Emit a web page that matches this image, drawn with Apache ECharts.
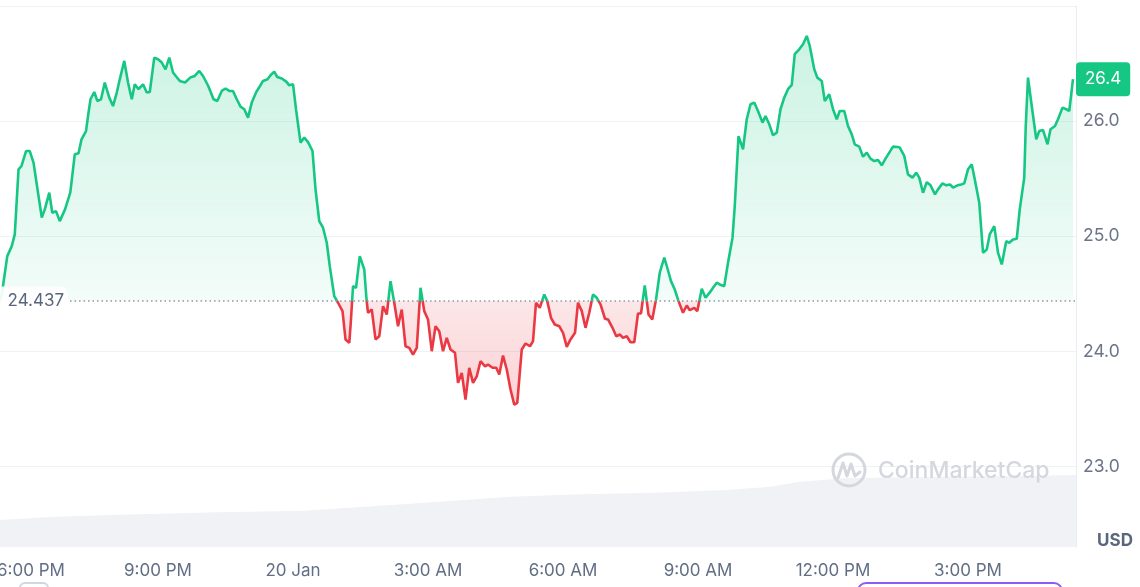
<!DOCTYPE html>
<html>
<head>
<meta charset="utf-8">
<script src="https://cdn.jsdelivr.net/npm/echarts@6/dist/echarts.min.js"></script>
<style>
html,body{margin:0;padding:0;background:#ffffff;}
#c{width:1140px;height:587px;}
</style>
</head>
<body>
<div id="c"></div>
<script>
// ---- data (time in minutes after 6:00 PM, 19 Jan) ----
const baseline = 24.437;
const priceMinutes = [-32,-28,-21,-15,-11,-6,-2,4,9,14,18,25,29,35,39,44,49,56,63,69,74,78,84,87,90,95,99,104,109,115,120,125,129,135,140,145,149,154,160,165,169,175,180,185,190,195,200,205,209,216,223,229,235,240,247,254,259,265,270,275,280,285,290,295,300,305,311,316,320,326,330,335,339,345,351,355,360,364,370,375,380,386,390,395,400,405,409,415,420,426,430,435,437,440,444,449,455,458,460,465,470,475,480,485,490,495,500,505,510,515,520,525,530,535,540,545,550,555,560,565,570,576,580,585,590,595,600,605,610,616,620,626,631,635,640,645,650,655,659,665,670,676,680,684,689,695,699,704,709,715,720,725,730,736,740,745,750,755,760,765,770,776,780,786,791,796,800,805,810,815,820,824,829,834,839,844,849,855,859,864,869,874,880,885,889,895,899,905,910,916,920,925,929,935,940,946,949,954,957,960,965,970,975,980,986,990,995,1000,1005,1010,1015,1020,1025,1029,1035,1040,1045,1049,1055,1059,1065,1069,1075,1080,1085,1089,1095,1100,1105,1109,1115,1120,1125,1130,1135,1140,1145,1150,1155,1160,1166,1169,1175,1180,1186,1191,1195,1200,1205,1210,1216,1220,1226,1231,1236,1240,1246,1251,1255,1260,1265,1269,1275,1280,1285,1289,1295,1300,1305,1311,1315,1320,1325,1329,1335,1337,1340,1345,1351,1355,1360,1366,1370,1376,1380,1386,1391,1395,1400];
const prices = [24.424,24.509,24.827,24.914,25.016,25.581,25.610,25.740,25.740,25.639,25.465,25.161,25.233,25.378,25.204,25.218,25.131,25.233,25.378,25.711,25.720,25.842,25.914,26.059,26.190,26.253,26.175,26.190,26.335,26.204,26.131,26.248,26.363,26.523,26.335,26.190,26.320,26.277,26.320,26.248,26.253,26.552,26.537,26.509,26.450,26.552,26.422,26.381,26.349,26.335,26.378,26.392,26.436,26.392,26.305,26.190,26.175,26.262,26.283,26.262,26.262,26.190,26.126,26.103,26.030,26.161,26.253,26.305,26.349,26.363,26.398,26.430,26.383,26.370,26.343,26.311,26.320,26.103,25.813,25.857,25.818,25.740,25.407,25.131,25.074,24.943,24.740,24.479,24.422,24.349,24.103,24.074,24.248,24.566,24.552,24.827,24.711,24.450,24.335,24.363,24.103,24.131,24.392,24.320,24.610,24.422,24.218,24.363,24.044,24.030,23.972,24.030,24.552,24.349,24.277,24.001,24.218,24.175,24.001,24.117,24.016,23.987,23.726,23.813,23.581,23.857,23.726,23.783,23.914,23.870,23.885,23.857,23.857,23.798,23.963,23.842,23.668,23.537,23.552,24.016,24.068,24.044,24.088,24.422,24.378,24.494,24.436,24.291,24.233,24.218,24.161,24.039,24.103,24.161,24.422,24.349,24.204,24.335,24.494,24.465,24.407,24.283,24.277,24.204,24.131,24.146,24.117,24.131,24.079,24.079,24.329,24.329,24.572,24.320,24.277,24.450,24.683,24.813,24.726,24.610,24.537,24.436,24.335,24.398,24.357,24.378,24.349,24.543,24.465,24.514,24.552,24.596,24.581,24.566,24.770,24.987,25.262,25.870,25.813,25.755,26.016,26.146,26.161,26.088,25.987,26.044,25.972,25.877,25.900,26.103,26.204,26.277,26.314,26.581,26.624,26.668,26.740,26.653,26.450,26.378,26.349,26.175,26.233,26.103,26.016,26.088,26.088,25.957,25.885,25.798,25.778,25.691,25.726,25.674,25.653,25.662,25.616,25.674,25.726,25.778,25.775,25.770,25.697,25.537,25.509,25.552,25.509,25.378,25.470,25.442,25.363,25.407,25.459,25.442,25.450,25.422,25.442,25.450,25.459,25.581,25.624,25.494,25.291,24.857,24.885,25.016,25.088,24.857,24.755,24.957,24.943,24.972,24.978,25.233,25.509,25.957,26.378,26.131,25.842,25.914,25.923,25.798,25.929,25.957,26.016,26.117,26.103,26.088,26.364];
const volumeMinutes = [-31,28,115,260,376,435,512,589,648,745,843,939,997,1036,1095,1181,1327,1404];
const volumeValues = [4.99,5.49,5.91,6.41,6.71,7.26,7.95,8.69,9.30,9.74,10.04,10.54,11.15,12.08,12.70,12.89,13.13,13.31];
const xTickMinutes = [0,180,360,540,720,900,1080,1260];
const xTickLabels = ['6:00 PM','9:00 PM','20 Jan','3:00 AM','6:00 AM','9:00 AM','12:00 PM','3:00 PM'];
const yLabelValues = [23,24,25,26];
const yGridValues = [23,24,25,26,27];
const xMin = -30.7, xMax = 1404;
const yMin = 22.3, yMax = 27;
const baselineLabelStart = 62.7;

const GREEN = '#16c784', RED = '#ea3943';
const priceData = priceMinutes.map((m, i) => [m, prices[i]]);
const volumeData = volumeMinutes.map((m, i) => [m, volumeValues[i]]);
const FONT = 'Inter, "Noto Sans", sans-serif';

const chart = echarts.init(document.getElementById('c'), null, {renderer: 'canvas'});
const option = {
  animation: false,
  grid: {left: 0, right: 64, top: 6, bottom: 40, containLabel: false, outerBoundsMode: 'none'},
  xAxis: {
    type: 'value', min: xMin, max: xMax,
    axisLine: {show: false}, axisTick: {show: false}, splitLine: {show: false},
    axisLabel: {
      customValues: xTickMinutes,
      formatter: v => {
        const i = xTickMinutes.indexOf(v);
        if (i < 0) return '';
        return i === 0 ? '{first|' + xTickLabels[i] + '}' : xTickLabels[i];
      },
      rich: {first: {padding: [0, 0, 0, 16], fontSize: 17, color: '#616e85', fontFamily: FONT}},
      color: '#616e85', fontSize: 17, fontFamily: FONT, margin: 15
    }
  },
  yAxis: [{
    type: 'value', position: 'right', min: yMin, max: yMax,
    axisLine: {show: true, onZero: false, lineStyle: {color: '#eaedf1', width: 1}},
    axisTick: {show: false, customValues: yGridValues},
    splitLine: {show: true, lineStyle: {color: '#eff2f5', width: 1}},
    axisLabel: {
      customValues: yLabelValues,
      formatter: v => v.toFixed(1),
      color: '#6b7488', fontSize: 17.5, fontFamily: FONT, margin: 7
    }
  }, {
    type: 'value', min: 0, max: 100, show: false
  }],
  series: [{
    id: 'volume', type: 'line', yAxisIndex: 1, data: volumeData,
    symbol: 'none', silent: true,
    lineStyle: {width: 0},
    areaStyle: {color: '#f0f2f5', opacity: 1}
  }, {
    id: 'price', type: 'line', data: priceData, symbol: 'none',
    lineStyle: {width: 2.6, color: GREEN},
    areaStyle: {origin: baseline, color: 'rgba(22,199,132,0.15)', opacity: 1},
    endLabel: {
      show: true, formatter: p => p.value[1].toFixed(1),
      backgroundColor: GREEN, color: '#ffffff', fontSize: 17, fontFamily: FONT,
      padding: [9, 9, 8, 9], borderRadius: 4, distance: 3
    },
    markLine: {
      silent: true, symbol: ['none', 'none'], animation: false,
      lineStyle: {type: [1.5, 3], color: '#8f96a5', width: 1.5},
      label: {
        show: true, position: 'start', formatter: baseline.toFixed(3),
        color: '#58667e', fontSize: 17, fontFamily: FONT,
        backgroundColor: 'rgba(255,255,255,0.92)', padding: [6, 4, 6, 8],
        borderRadius: [0, 8, 8, 0], distance: 2
      },
      emphasis: {disabled: true},
      data: [[{coord: [baselineLabelStart, baseline]}, {coord: [xMax, baseline]}]]
    }
  }],
  graphic: [
    {type: 'text', z: 10, style: {text: 'USD', x: 1115, y: 541, align: 'center', verticalAlign: 'middle', font: 'bold 17px ' + FONT, fill: '#58667e'}},
    {type: 'circle', z: 10, shape: {cx: 849, cy: 470, r: 16}, style: {fill: 'none', stroke: '#d3d7de', lineWidth: 3}},
    {type: 'polyline', z: 10, shape: {points: [[838, 478], [843, 463], [847, 476], [851, 464], [855, 476], [860, 472]]}, style: {fill: 'none', stroke: '#d3d7de', lineWidth: 3, lineJoin: 'round', lineCap: 'round'}},
    {type: 'text', z: 10, style: {text: 'CoinMarketCap', x: 878, y: 471, verticalAlign: 'middle', font: '500 23px ' + FONT, fill: '#d3d7de'}},
    {type: 'rect', z: 10, shape: {x: 858, y: 583, width: 204, height: 24, r: 8}, style: {fill: '#ffffff', stroke: '#8d5cf6', lineWidth: 2}},
    {type: 'rect', z: 10, shape: {x: 20, y: 583, width: 28, height: 14, r: 5}, style: {fill: '#ffffff', stroke: '#cfd6e4', lineWidth: 2}}
  ]
};
chart.setOption(option);

const yTopPx = chart.convertToPixel({yAxisIndex: 0}, yMax);
const yBotPx = chart.convertToPixel({yAxisIndex: 0}, yMin);
const yBasePx = chart.convertToPixel({yAxisIndex: 0}, baseline);
const b = (yBasePx - yTopPx) / (yBotPx - yTopPx);
const G = echarts.graphic.LinearGradient;
chart.setOption({
  series: [{
    id: 'price',
    lineStyle: {color: new G(0, yTopPx, 0, yBotPx, [
      {offset: 0, color: GREEN}, {offset: b, color: GREEN},
      {offset: b, color: RED}, {offset: 1, color: RED}], true)},
    areaStyle: {color: new G(0, yTopPx, 0, yBotPx, [
      {offset: 0, color: 'rgba(22,199,132,0.24)'}, {offset: b, color: 'rgba(22,199,132,0.05)'},
      {offset: b, color: 'rgba(234,57,67,0.12)'}, {offset: 1, color: 'rgba(234,57,67,0.36)'}], true)}
  }]
});
</script>
</body>
</html>
